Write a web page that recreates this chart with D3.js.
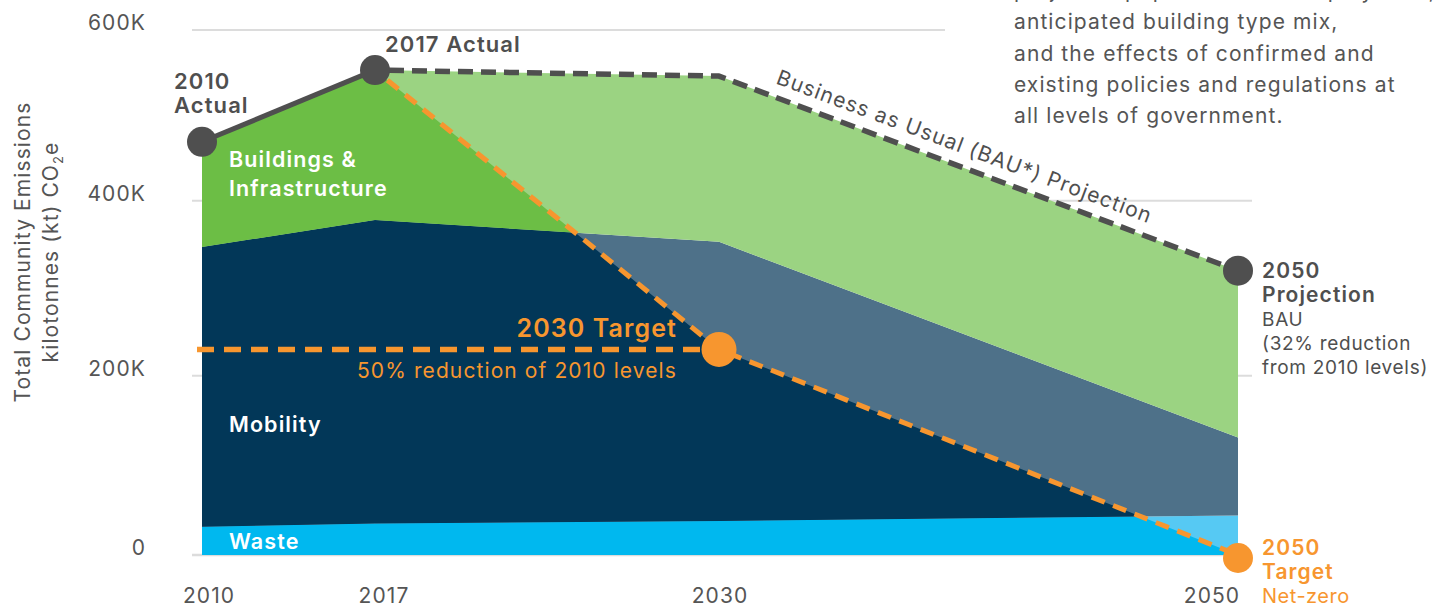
<!DOCTYPE html>
<html>
<head>
<meta charset="utf-8">
<script src="https://cdn.jsdelivr.net/npm/d3@7"></script>
<style>
  html, body { margin: 0; padding: 0; background: #ffffff; }
  svg { display: block; font-family: "Inter", "Noto Sans", sans-serif; letter-spacing: 1.1px; }
</style>
</head>
<body>
<svg id="chart" width="1446" height="608"></svg>
<script>
// ---------- data (kilotonnes CO2e, thousands) ----------
const years = [2010, 2017, 2030, 2050];
const waste = [31.5, 35, 38, 44];
const mobility = [315.5, 343, 315, 87];
const buildings = [122, 175, 193, 189];
const targetYears = [2017, 2030, 2050];
const targetValues = [553, 230, 0];
const target2030Level = 230;
const yTicks = [0, 200, 400, 600];
const yTickLabels = ["0", "200K", "400K", "600K"];
const xTickLabels = ["2010", "2017", "2030", "2050"];
const noteLines = [
  "projected population and employment,",
  "anticipated building type mix,",
  "and the effects of confirmed and",
  "existing policies and regulations at",
  "all levels of government."
];

// ---------- setup ----------
const svg = d3.select("#chart");
const W = 1446, H = 608;
const x = d3.scaleLinear().domain([2010, 2017, 2030, 2050]).range([202, 375, 719, 1238]);
const y = d3.scaleLinear().domain([0, 200, 400, 600]).range([555, 375.7, 200.7, 30]);

const COL = {
  waste: "#00B8EF", wasteLight: "#56C9F3",
  mob: "#023758", mobLight: "#4E7189",
  bld: "#6CBE45", bldLight: "#9BD382",
  grid: "#DCDCDC", gray: "#4F4F4F", text: "#555555", orange: "#F7962F"
};

const rows = years.map((yr, i) => ({ year: yr, waste: waste[i], mobility: mobility[i], buildings: buildings[i] }));
const stack = d3.stack().keys(["waste", "mobility", "buildings"]);
const series = stack(rows);
const bau = rows.map(r => r.waste + r.mobility + r.buildings);

// ---------- gridlines ----------
svg.append("g").selectAll("line").data(yTicks).join("line")
  .attr("x1", 192).attr("x2", 1252)
  .attr("y1", d => y(d)).attr("y2", d => y(d))
  .attr("stroke", COL.grid).attr("stroke-width", d => d === 0 ? 2.5 : 2);

// ---------- y tick labels ----------
svg.append("g").selectAll("text").data(yTicks).join("text")
  .attr("x", 146).attr("y", d => y(d))
  .attr("text-anchor", "end")
  .attr("font-size", 21).attr("fill", COL.text)
  .text((d, i) => yTickLabels[i]);

// ---------- x tick labels ----------
const xLabelDx = [7, 9, 1, -26];
svg.append("g").selectAll("text").data(years).join("text")
  .attr("x", (d, i) => x(d) + xLabelDx[i]).attr("y", 603)
  .attr("text-anchor", "middle")
  .attr("font-size", 21).attr("fill", COL.text)
  .text((d, i) => xTickLabels[i]);

// ---------- y axis title ----------
const yTitle = svg.append("text")
  .attr("transform", "translate(30,252) rotate(-90)")
  .attr("text-anchor", "middle").attr("font-size", 21).attr("fill", COL.text);
yTitle.append("tspan").attr("x", 0).attr("dy", 0).text("Total Community Emissions");
yTitle.append("tspan").attr("x", 0).attr("dy", 28).text("kilotonnes (kt) CO");
yTitle.append("tspan").attr("font-size", 13).attr("dy", 5).text("2");
yTitle.append("tspan").attr("dy", -5).text("e");

// ---------- areas ----------
const area = d3.area()
  .x(d => x(d.data.year))
  .y0(d => y(d[0])).y1(d => y(d[1]));

const lightCols = { waste: COL.wasteLight, mobility: COL.mobLight, buildings: COL.bldLight };
const darkCols = { waste: COL.waste, mobility: COL.mob, buildings: COL.bld };

svg.append("g").selectAll("path").data(series).join("path")
  .attr("d", area).attr("fill", d => lightCols[d.key]);

// clip: region below target pathway
const clipPts = [[x(2010) - 20, 0]]
  .concat(targetYears.map((yr, i) => [x(yr), y(targetValues[i])]))
  .concat([[x(2050) + 30, y(0) + 40], [x(2010) - 20, y(0) + 40]]);
svg.append("clipPath").attr("id", "belowTarget")
  .append("path").attr("d", "M" + clipPts.map(p => p.join(",")).join("L") + "Z");

svg.append("g").attr("clip-path", "url(#belowTarget)")
  .selectAll("path").data(series).join("path")
  .attr("d", area).attr("fill", d => darkCols[d.key]);

// ---------- annotation box (top right) ----------
svg.append("rect").attr("x", 945).attr("y", 0).attr("width", W - 945).attr("height", 132).attr("fill", "#fff");
svg.append("g").selectAll("text").data(noteLines).join("text")
  .attr("x", 1014).attr("y", (d, i) => -2 + i * 31.3)
  .attr("font-size", 21).attr("fill", COL.text)
  .text(d => d);

// ---------- BAU line ----------
const line = d3.line().x(d => x(d[0])).y(d => y(d[1]));
svg.append("path")
  .attr("d", line([[years[0], bau[0]], [years[1], bau[1]]]))
  .attr("fill", "none").attr("stroke", COL.gray).attr("stroke-width", 5);
svg.append("path")
  .attr("d", line(years.slice(1).map((yr, i) => [yr, bau[i + 1]])))
  .attr("fill", "none").attr("stroke", COL.gray).attr("stroke-width", 5.5)
  .attr("stroke-dasharray", "15,8").attr("stroke-linejoin", "round")
  .attr("stroke-dashoffset", -14);

// ---------- target lines ----------
svg.append("line")
  .attr("x1", 192).attr("x2", x(2030))
  .attr("y1", y(target2030Level)).attr("y2", y(target2030Level))
  .attr("stroke", COL.orange).attr("stroke-width", 5.5)
  .attr("stroke-dasharray", "17,10").attr("stroke-dashoffset", -5);
svg.append("path")
  .attr("d", line(targetYears.map((yr, i) => [yr, targetValues[i]])))
  .attr("fill", "none").attr("stroke", COL.orange).attr("stroke-width", 5)
  .attr("stroke-dasharray", "14,9").attr("stroke-dashoffset", -16);

// ---------- markers ----------
const grayPts = [[2010, bau[0]], [2017, bau[1]], [2050, bau[3]]];
svg.append("g").selectAll("circle").data(grayPts).join("circle")
  .attr("cx", d => x(d[0])).attr("cy", d => y(d[1])).attr("r", 15)
  .attr("fill", COL.gray);
const orangePts = [[2030, targetValues[1], 17.5], [2050, targetValues[2], 15]];
svg.append("g").selectAll("circle").data(orangePts).join("circle")
  .attr("cx", d => x(d[0])).attr("cy", d => y(d[1]) + (d[1] === 0 ? 3 : 0)).attr("r", d => d[2])
  .attr("fill", COL.orange);

// ---------- BAU label along line ----------
{
  const x1 = x(2030), y1 = y(bau[2]), x2 = x(2050), y2 = y(bau[3]);
  const ang = Math.atan2(y2 - y1, x2 - x1);
  const along = 55, off = 13;
  const px = x1 + along * Math.cos(ang) + off * Math.sin(ang);
  const py = y1 + along * Math.sin(ang) - off * Math.cos(ang);
  svg.append("text")
    .attr("transform", `translate(${px},${py}) rotate(${ang * 180 / Math.PI})`)
    .attr("font-size", 21).attr("fill", COL.gray)
    .text("Business as Usual (BAU*) Projection");
}

// ---------- labels ----------
function label(lines, xPos, yPos, opts) {
  const t = svg.append("text").attr("x", xPos).attr("y", yPos)
    .attr("fill", opts.fill).attr("text-anchor", opts.anchor || "start");
  lines.forEach((l, i) => {
    t.append("tspan").attr("x", xPos).attr("y", yPos + i * (opts.lh || 24))
      .attr("font-size", l.size || opts.size || 21)
      .attr("font-weight", l.bold ? 600 : 400)
      .attr("letter-spacing", l.ls != null ? l.ls : null)
      .text(l.t);
  });
}
label([{ t: "2010", bold: true }, { t: "Actual", bold: true }], 174, 89, { fill: COL.gray, size: 22 });
label([{ t: "2017 Actual", bold: true }], 385, 52, { fill: COL.gray, size: 22 });
label([{ t: "Buildings &", bold: true }, { t: "Infrastructure", bold: true }], 229, 167, { fill: "#fff", size: 21.5, lh: 29 });
label([{ t: "Mobility", bold: true }], 229, 432, { fill: "#fff", size: 21.5 });
label([{ t: "Waste", bold: true }], 229, 549, { fill: "#fff", size: 21.5 });
label([{ t: "2030 Target", bold: true, size: 25 }], 677, 337, { fill: COL.orange, anchor: "end" });
label([{ t: "50% reduction of 2010 levels" }], 677, 378, { fill: COL.orange, anchor: "end" });
label([{ t: "2050", bold: true }, { t: "Projection", bold: true }, { t: "BAU", size: 19, ls: 0.7 },
       { t: "(32% reduction", size: 19, ls: 0.7 }, { t: "from 2010 levels)", size: 19, ls: 0.7 }],
      1262, 278, { fill: COL.gray, size: 21, lh: 24 });
label([{ t: "2050", bold: true }, { t: "Target", bold: true }, { t: "Net-zero", size: 20, ls: 0.5 }],
      1262, 555, { fill: COL.orange, size: 21, lh: 24 });
</script>
</body>
</html>
